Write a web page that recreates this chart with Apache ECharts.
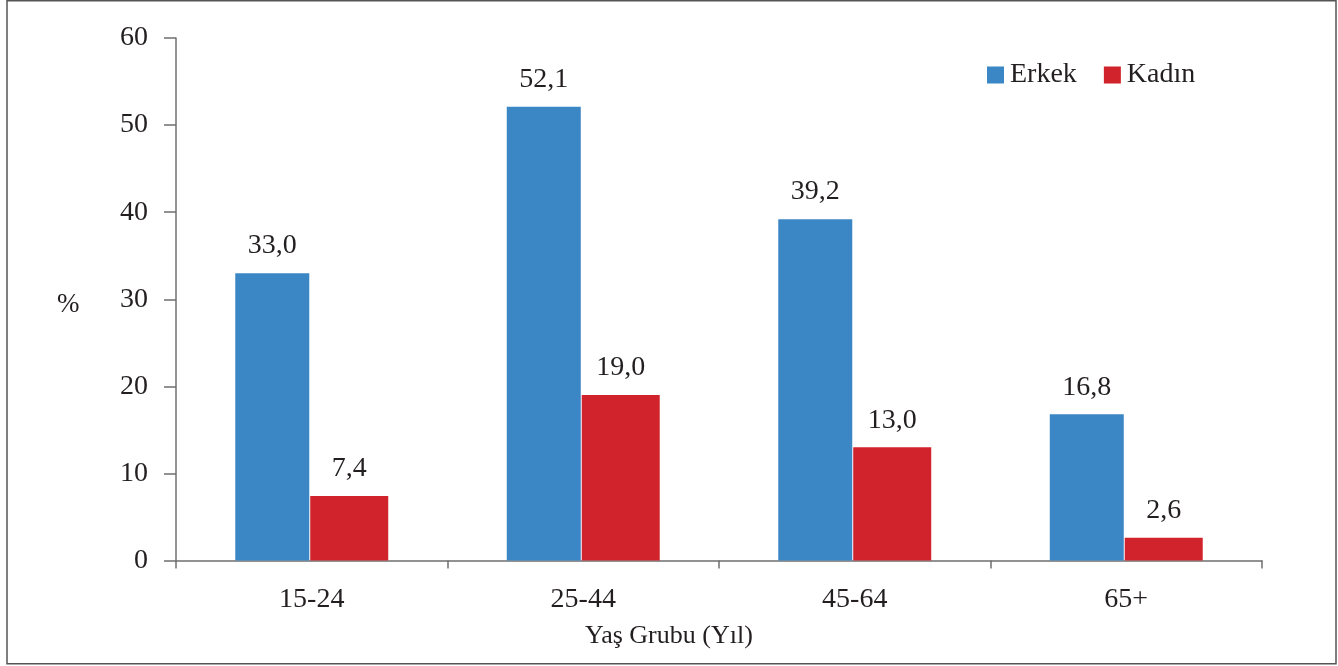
<!DOCTYPE html>
<html>
<head>
<meta charset="utf-8">
<script src="https://cdn.jsdelivr.net/npm/echarts@6/dist/echarts.min.js"></script>
<style>
  html, body { margin: 0; padding: 0; background: #fff; }
  #chart { width: 1338px; height: 666px; }
</style>
</head>
<body>
<div id="chart"></div>
<script>
// Age groups and shares by sex (%)
const categories = ['15-24', '25-44', '45-64', '65+'];
const erkek = [33.0, 52.1, 39.2, 16.8];
const kadin = [7.4, 19.0, 13.0, 2.6];
const yTicks = [0, 10, 20, 30, 40, 50, 60];

const SERIF = '"Liberation Serif", "DejaVu Serif", serif';
const TEXT = '#231F20';
const AXIS = '#6f6f6f';

const fmt = v => v.toFixed(1).replace('.', ',');

const chart = echarts.init(document.getElementById('chart'), null, { renderer: 'canvas' });

chart.setOption({
  animation: false,
  backgroundColor: '#ffffff',
  textStyle: { fontFamily: SERIF, color: TEXT },
  grid: { left: 176, right: 76, top: 38, bottom: 105.5, containLabel: false },
  legend: {
    left: 982,
    top: 56,
    itemWidth: 17,
    itemHeight: 17,
    itemGap: 27,
    icon: 'rect',
    textStyle: { fontFamily: SERIF, fontSize: 28, color: TEXT, padding: [0, 0, 0, 1] },
    data: ['Erkek', 'Kadın']
  },
  xAxis: {
    type: 'category',
    data: categories,
    axisLine: { lineStyle: { color: AXIS, width: 1.5 } },
    axisTick: { show: true, length: 8, alignWithLabel: false, lineStyle: { color: AXIS, width: 1.5 } },
    axisLabel: { fontFamily: SERIF, fontSize: 28, color: TEXT, margin: 25 },
    splitLine: { show: false }
  },
  yAxis: {
    type: 'value',
    min: yTicks[0],
    max: yTicks[yTicks.length - 1],
    interval: 10,
    axisLine: { show: true, lineStyle: { color: AXIS, width: 1.5 } },
    axisTick: { show: true, length: 12, lineStyle: { color: AXIS, width: 1.5 } },
    axisLabel: { fontFamily: SERIF, fontSize: 28, color: TEXT, margin: 28 },
    splitLine: { show: false }
  },
  series: [
    {
      name: 'Erkek',
      type: 'bar',
      data: erkek,
      barWidth: 74,
      barGap: '1.3%',
      itemStyle: { color: '#3B86C4' },
      label: {
        show: true, position: 'top', distance: 13,
        fontFamily: SERIF, fontSize: 28, color: TEXT,
        formatter: p => fmt(p.value)
      }
    },
    {
      name: 'Kadın',
      type: 'bar',
      data: kadin,
      barWidth: 78,
      itemStyle: { color: '#D1232B' },
      label: {
        show: true, position: 'top', distance: 13,
        fontFamily: SERIF, fontSize: 28, color: TEXT,
        formatter: p => fmt(p.value)
      }
    }
  ],
  graphic: [
    {
      type: 'rect',
      shape: { x: 7, y: 0.75, width: 1329, height: 663 },
      style: { fill: 'none', stroke: '#555555', lineWidth: 1.5 },
      silent: true
    },
    {
      type: 'text',
      left: 57, top: 291,
      style: { text: '%', fontFamily: SERIF, fontSize: 27, fill: TEXT }
    },
    {
      type: 'text',
      left: 585, top: 623,
      style: { text: 'Yaş Grubu (Yıl)', fontFamily: SERIF, fontSize: 26, fill: TEXT }
    }
  ]
});
</script>
</body>
</html>
